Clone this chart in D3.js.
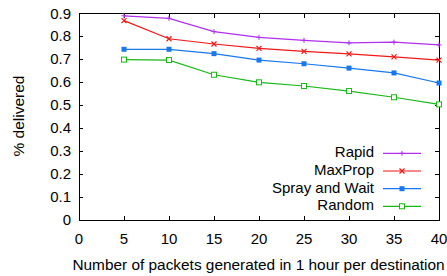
<!DOCTYPE html>
<html>
<head>
<meta charset="utf-8">
<script src="https://cdn.jsdelivr.net/npm/d3@7"></script>
<style>
  body { margin: 0; background: #fff; }
  text { font-family: "Liberation Sans", Arial, sans-serif; fill: #000; }
</style>
</head>
<body>
<svg id="chart" width="447" height="276"></svg>
<script>
// values
let packets = [5, 10, 15, 20, 25, 30, 35, 40];
let rapid    = [0.890, 0.879, 0.821, 0.796, 0.783, 0.772, 0.775, 0.763];
let maxprop  = [0.869, 0.790, 0.767, 0.748, 0.735, 0.724, 0.711, 0.697];
let spray    = [0.744, 0.744, 0.725, 0.697, 0.681, 0.662, 0.641, 0.597];
let random   = [0.699, 0.697, 0.633, 0.600, 0.584, 0.562, 0.535, 0.504];
let xTicks = [0, 5, 10, 15, 20, 25, 30, 35, 40];
let yTicks = [0, 0.1, 0.2, 0.3, 0.4, 0.5, 0.6, 0.7, 0.8, 0.9];

let series = [
    {name: "Rapid",          values: rapid,   color: "#b030f0", marker: "plus"},
    {name: "MaxProp",        values: maxprop, color: "#f01818", marker: "cross"},
    {name: "Spray and Wait", values: spray,   color: "#1878f0", marker: "fsquare"},
    {name: "Random",         values: random,  color: "#18b818", marker: "osquare"}
];

let svg = d3.select("#chart");
let plotLeft = 79, plotRight = 439, plotTop = 13.5, plotBottom = 220;
let fontSize = 15;

let x = d3.scaleLinear().domain([0, 40]).range([plotLeft, plotRight]);
let y = d3.scaleLinear().domain([0, 0.9]).range([plotBottom, plotTop]);

// inward ticks on all four sides, gnuplot style
let tickLen = 4;
let axes = svg.append("g").attr("stroke", "#000").attr("stroke-width", 1).attr("shape-rendering", "crispEdges");
xTicks.forEach(t => {
    axes.append("line").attr("x1", x(t)).attr("x2", x(t)).attr("y1", plotBottom).attr("y2", plotBottom - tickLen);
    axes.append("line").attr("x1", x(t)).attr("x2", x(t)).attr("y1", plotTop).attr("y2", plotTop + tickLen);
});
yTicks.forEach(t => {
    axes.append("line").attr("x1", plotLeft).attr("x2", plotLeft + tickLen).attr("y1", y(t)).attr("y2", y(t));
    axes.append("line").attr("x1", plotRight).attr("x2", plotRight - tickLen).attr("y1", y(t)).attr("y2", y(t));
});
axes.append("rect").attr("x", plotLeft).attr("y", plotTop)
    .attr("width", plotRight - plotLeft).attr("height", plotBottom - plotTop)
    .attr("fill", "none");

// tick labels
svg.append("g").selectAll("text").data(xTicks).join("text")
    .attr("x", d => x(d)).attr("y", 243.5).attr("text-anchor", "middle")
    .attr("font-size", fontSize).text(d => d);
svg.append("g").selectAll("text").data(yTicks).join("text")
    .attr("x", 71).attr("y", d => y(d) + 5).attr("text-anchor", "end")
    .attr("font-size", fontSize).text(d => d === 0 ? "0" : d3.format(".1f")(d));

// axis titles
svg.append("text").attr("x", 258.5).attr("y", 269.5).attr("text-anchor", "middle")
    .attr("font-size", 15.4).text("Number of packets generated in 1 hour per destination");
svg.append("text").attr("transform", "translate(24,116) rotate(-90)")
    .attr("text-anchor", "middle").attr("font-size", 15.5).text("% delivered");

function drawMarker(g, kind, cx, cy, color) {
    let s = 2.5;
    if (kind === "plus") {
        g.append("path").attr("d", `M${cx - s},${cy}H${cx + s}M${cx},${cy - s}V${cy + s}`)
            .attr("stroke", color).attr("stroke-width", 1).attr("fill", "none");
    } else if (kind === "cross") {
        g.append("path").attr("d", `M${cx - s},${cy - s}L${cx + s},${cy + s}M${cx - s},${cy + s}L${cx + s},${cy - s}`)
            .attr("stroke", color).attr("stroke-width", 1.2).attr("fill", "none");
    } else if (kind === "fsquare") {
        g.append("rect").attr("x", cx - s).attr("y", cy - s).attr("width", 2 * s).attr("height", 2 * s)
            .attr("fill", color);
    } else {
        g.append("rect").attr("x", cx - s).attr("y", cy - s).attr("width", 2 * s).attr("height", 2 * s)
            .attr("fill", "#fff").attr("stroke", color).attr("stroke-width", 1);
    }
}

let line = d3.line().x((d, i) => x(packets[i])).y(d => y(d));

series.forEach(s => {
    let g = svg.append("g");
    g.append("path").datum(s.values).attr("d", line)
        .attr("fill", "none").attr("stroke", s.color).attr("stroke-width", 1.2);
    s.values.forEach((v, i) => drawMarker(g, s.marker, x(packets[i]), y(v), s.color));
});

// legend
let legendY = [153.3, 171, 188.7, 206.3];
series.forEach((s, i) => {
    let g = svg.append("g");
    g.append("text").attr("x", 374).attr("y", legendY[i] + 3.8).attr("text-anchor", "end")
        .attr("font-size", fontSize).text(s.name);
    g.append("line").attr("x1", 383).attr("x2", 421).attr("y1", legendY[i]).attr("y2", legendY[i])
        .attr("stroke", s.color).attr("stroke-width", 1.2);
    drawMarker(g, s.marker, 402, legendY[i], s.color);
});
</script>
</body>
</html>
